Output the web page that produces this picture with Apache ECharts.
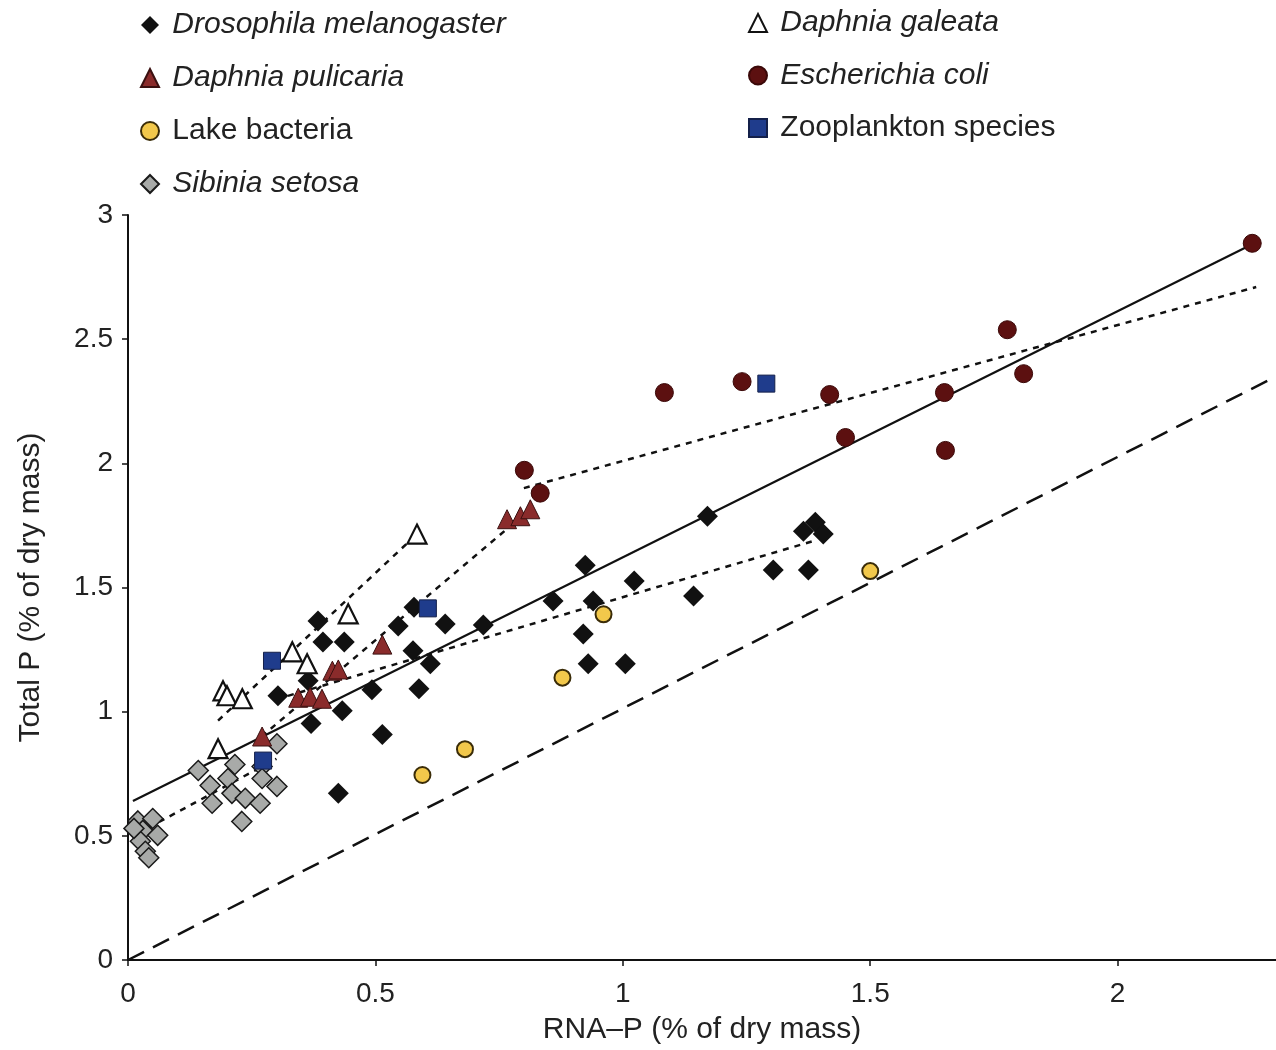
<!DOCTYPE html>
<html>
<head>
<meta charset="utf-8">
<script src="https://cdn.jsdelivr.net/npm/echarts@6/dist/echarts.min.js"></script>
<style>
  html, body { margin: 0; padding: 0; background: #fff; }
  #chart { width: 1276px; height: 1050px; }
</style>
</head>
<body>
<div id="chart"></div>
<script>
// values: [RNA-P, Total P] in % of dry mass
var drosophila = [
  [0.303, 1.064], [0.364, 1.124], [0.370, 0.952], [0.384, 1.365], [0.394, 1.281],
  [0.437, 1.281], [0.433, 1.004], [0.425, 0.671], [0.493, 1.088], [0.514, 0.908],
  [0.546, 1.345], [0.578, 1.420], [0.576, 1.245], [0.588, 1.092], [0.611, 1.193],
  [0.641, 1.353], [0.718, 1.349], [0.859, 1.446], [0.920, 1.313], [0.924, 1.590],
  [0.930, 1.193], [0.940, 1.446], [1.005, 1.193], [1.023, 1.526], [1.143, 1.466],
  [1.171, 1.787], [1.304, 1.570], [1.365, 1.727], [1.375, 1.570], [1.389, 1.763],
  [1.405, 1.715]
];
var daphniaPulicaria = [
  [0.271, 0.900], [0.344, 1.056], [0.368, 1.060], [0.392, 1.052], [0.413, 1.165],
  [0.425, 1.170], [0.514, 1.270], [0.766, 1.775], [0.793, 1.787], [0.813, 1.815]
];
var lakeBacteria = [
  [0.595, 0.745], [0.681, 0.849], [0.878, 1.137], [0.961, 1.392], [1.500, 1.566]
];
var sibinia = [
  [0.020, 0.560], [0.050, 0.570], [0.030, 0.522], [0.060, 0.502], [0.025, 0.478],
  [0.035, 0.438], [0.042, 0.412], [0.012, 0.530], [0.142, 0.763], [0.166, 0.703],
  [0.170, 0.631], [0.202, 0.731], [0.210, 0.671], [0.216, 0.787], [0.230, 0.558],
  [0.237, 0.651], [0.267, 0.631], [0.271, 0.779], [0.271, 0.731], [0.301, 0.871],
  [0.301, 0.699]
];
var daphniaGaleata = [
  [0.182, 0.851], [0.192, 1.084], [0.200, 1.064], [0.231, 1.052], [0.332, 1.241],
  [0.362, 1.193], [0.445, 1.394], [0.584, 1.715]
];
var ecoli = [
  [0.801, 1.972], [0.833, 1.880], [1.084, 2.285], [1.241, 2.329], [1.418, 2.277],
  [1.450, 2.104], [1.650, 2.285], [1.652, 2.052], [1.777, 2.538], [1.810, 2.361],
  [2.272, 2.886]
];
var zooplankton = [
  [0.273, 0.803], [0.291, 1.205], [0.606, 1.416], [1.290, 2.321]
];

// fitted lines (end points)
var overallFit = [[0.01, 0.64], [2.28, 2.89]];
var oneToOne = [[0, 0], [2.32, 2.35]];
var sibiniaFit = [[0.02, 0.51], [0.30, 0.81]];
var galeataFit = [[0.182, 0.964], [0.584, 1.715]];
var pulicariaFit = [[0.27, 0.90], [0.81, 1.81]];
var drosophilaFit = [[0.30, 1.05], [1.39, 1.69]];
var ecoliFit = [[0.80, 1.90], [2.28, 2.71]];

var xTicks = [0, 2.32, 0.5];
var yTicks = [0, 3, 0.5];

var font = 'Liberation Sans, Arial, Helvetica, sans-serif';

function fitLine(data, type, width) {
    return {
        type: 'line',
        data: data,
        symbol: 'none',
        silent: true,
        z: 1,
        lineStyle: { color: '#111', width: width, type: type }
    };
}

function pts(name, data, symbol, size, color, border, bw) {
    return {
        name: name,
        type: 'scatter',
        data: data,
        symbol: symbol,
        symbolSize: size,
        z: 3,
        itemStyle: { color: color, borderColor: border, borderWidth: bw, opacity: 1 }
    };
}

var italic = { fontStyle: 'italic' };
var legendText = { fontSize: 30, color: '#222', lineHeight: 34, fontFamily: font };

var option = {
    backgroundColor: '#fff',
    animation: false,
    textStyle: { fontFamily: font },
    grid: { left: 128, right: 0, top: 215, bottom: 88 },
    legend: [{
        orient: 'vertical',
        left: 135,
        top: 3,
        itemWidth: 18,
        itemHeight: 18,
        itemGap: 19,
        formatter: ' {name}',
        textStyle: legendText,
        data: [
            { name: 'Drosophila melanogaster', textStyle: italic },
            { name: 'Daphnia pulicaria', textStyle: italic },
            { name: 'Lake bacteria' },
            { name: 'Sibinia setosa', textStyle: italic }
        ]
    }, {
        orient: 'vertical',
        left: 743,
        top: 1,
        itemWidth: 18,
        itemHeight: 18,
        itemGap: 18.5,
        formatter: ' {name}',
        textStyle: legendText,
        data: [
            { name: 'Daphnia galeata', textStyle: italic },
            { name: 'Escherichia coli', textStyle: italic },
            { name: 'Zooplankton species' }
        ]
    }],
    xAxis: {
        type: 'value',
        min: xTicks[0],
        max: xTicks[1],
        interval: xTicks[2],
        name: 'RNA\u2013P (% of dry mass)',
        nameLocation: 'middle',
        nameGap: 55,
        nameTextStyle: { fontSize: 30, color: '#222' },
        splitLine: { show: false },
        axisLine: { lineStyle: { color: '#111', width: 2 } },
        axisTick: { length: 6, lineStyle: { color: '#111', width: 1.5 } },
        axisLabel: { fontSize: 28, color: '#222', margin: 20, showMaxLabel: false }
    },
    yAxis: {
        type: 'value',
        min: yTicks[0],
        max: yTicks[1],
        interval: yTicks[2],
        name: 'Total P (% of dry mass)',
        nameLocation: 'middle',
        nameRotate: 90,
        nameGap: 82,
        nameTextStyle: { fontSize: 30, color: '#222' },
        splitLine: { show: false },
        axisLine: { lineStyle: { color: '#111', width: 2 } },
        axisTick: { length: 6, lineStyle: { color: '#111', width: 1.5 } },
        axisLabel: { fontSize: 28, color: '#222', margin: 15 }
    },
    series: [
        fitLine(oneToOne, [18, 10], 2.5),
        fitLine(overallFit, 'solid', 2.2),
        fitLine(sibiniaFit, [6, 6], 2.5),
        fitLine(galeataFit, [6, 6], 2.5),
        fitLine(pulicariaFit, [6, 6], 2.5),
        fitLine(drosophilaFit, [6, 6], 2.5),
        fitLine(ecoliFit, [6, 6], 2.5),
        pts('Sibinia setosa', sibinia, 'diamond', 20, '#a8aaa8', '#1a1a1a', 1.5),
        pts('Drosophila melanogaster', drosophila, 'diamond', 21, '#111', '#111', 0),
        pts('Lake bacteria', lakeBacteria, 'circle', 16, '#f2c84b', '#3a2c08', 2),
        pts('Daphnia galeata', daphniaGaleata, 'triangle', 19, '#fff', '#111', 2.2),
        pts('Daphnia pulicaria', daphniaPulicaria, 'triangle', 19, '#8a2b2b', '#3a1010', 1),
        pts('Escherichia coli', ecoli, 'circle', 18, '#5c1010', '#3a0808', 1),
        pts('Zooplankton species', zooplankton, 'rect', 17, '#1f3c8c', '#14204a', 1)
    ]
};

var chart = echarts.init(document.getElementById('chart'));
chart.setOption(option);
</script>
</body>
</html>
